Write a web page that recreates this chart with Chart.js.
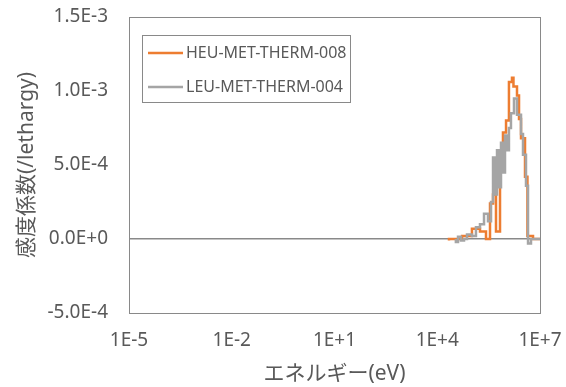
<!DOCTYPE html>
<html>
<head>
<meta charset="utf-8">
<script src="https://cdn.jsdelivr.net/npm/chart.js@4/dist/chart.umd.min.js"></script>
<style>
  html, body { margin: 0; padding: 0; background: #fff; }
  #wrap { width: 566px; height: 387px; }
</style>
</head>
<body>
<div id="wrap"><canvas id="sens" width="566" height="387"></canvas></div>
<script>
// Sensitivity profiles (per lethargy), group lower edges in eV
const seriesLabels = ['HEU-MET-THERM-008', 'LEU-MET-THERM-004'];
const seriesColors = ['#ED7D31', '#A5A5A5'];

const heuEnergy = [2.2e4, 5.3e4, 1.03e5, 1.77e5, 2.65e5, 3.47e5, 4.25e5, 5.19e5, 6.8e5,
  8.3e5, 1.02e6, 1.24e6, 1.52e6, 1.68e6, 2.13e6, 2.44e6, 2.79e6, 3.65e6, 4.3e6, 6.25e6, 8.2e6, 1e7];
const heuValue = [-0.01e-3, 0, 0.02e-3, 0.07e-3, 0.05e-3, 0, 0.24e-3, 0.30e-3, 0.05e-3,
  0.50e-3, 0.72e-3, 0.80e-3, 1.06e-3, 1.09e-3, 1.03e-3, 0.97e-3, 0.81e-3, 0.68e-3, 0.42e-3, 0.02e-3, 0, 0];

const leuEnergy = [3.5e4, 4.04e4, 4.93e4, 6.04e4, 7.39e4, 1.03e5, 1.35e5, 1.77e5, 2.32e5, 3.03e5,
  3.71e5, 4.25e5, 4.86e5, 5.56e5, 6.36e5, 7.27e5, 8.31e5, 9.51e5, 1.09e6, 1.24e6,
  1.42e6, 1.74e6, 2.13e6, 2.79e6, 3.19e6, 3.90e6, 4.47e6, 5.46e6, 8.75e6, 1e7];
const leuValue = [0, -0.02e-3, 0.015e-3, -0.01e-3, 0, 0.03e-3, 0.02e-3, 0.08e-3, 0.10e-3, 0.17e-3,
  0.12e-3, 0.25e-3, 0.55e-3, 0.30e-3, 0.60e-3, 0.35e-3, 0.65e-3, 0.45e-3, 0.70e-3, 0.60e-3,
  0.75e-3, 0.85e-3, 0.95e-3, 0.84e-3, 0.71e-3, 0.57e-3, 0.36e-3, -0.03e-3, 0, 0];

const xTicks = [1e-5, 1e-2, 1e1, 1e4, 1e7];
const yMin = -5e-4, yMax = 1.5e-3, yStep = 5e-4;

const TEXT = '#595959';
const FRAME = '#898989';
Chart.defaults.font.family = "'Noto Sans', 'Noto Sans CJK JP', sans-serif";
Chart.defaults.color = TEXT;

const toPoints = (xs, ys) => xs.map((x, i) => ({ x: x, y: ys[i] }));

// box around the plot area
const plotFrame = {
  id: 'plotFrame',
  beforeDatasetsDraw(chart) {
    const { ctx, chartArea: a } = chart;
    ctx.save();
    ctx.strokeStyle = FRAME;
    ctx.lineWidth = 1;
    ctx.strokeRect(Math.round(a.left) + 0.5, Math.round(a.top) + 0.5,
      Math.round(a.right - a.left), Math.round(a.bottom - a.top));
    ctx.restore();
  }
};

// legend drawn inside the plot, upper left, with a border
const boxedLegend = {
  id: 'boxedLegend',
  afterDatasetsDraw(chart) {
    const ctx = chart.ctx;
    const bx = 142, by = 35, bw = 208, bh = 67;
    ctx.save();
    ctx.fillStyle = '#fff';
    ctx.fillRect(bx, by, bw, bh);
    ctx.strokeStyle = FRAME;
    ctx.lineWidth = 1;
    ctx.strokeRect(bx + 0.5, by + 0.5, bw, bh);
    ctx.font = "16px 'Noto Sans', sans-serif";
    ctx.textBaseline = 'middle';
    seriesLabels.forEach((lbl, i) => {
      const y = by + 18 + i * 34;
      ctx.strokeStyle = seriesColors[i];
      ctx.lineWidth = 2.5;
      ctx.beginPath();
      ctx.moveTo(bx + 6, y);
      ctx.lineTo(bx + 41, y);
      ctx.stroke();
      ctx.fillStyle = TEXT;
      ctx.fillText(lbl, bx + 44, y);
    });
    ctx.restore();
  }
};

new Chart(document.getElementById('sens'), {
  type: 'line',
  data: {
    datasets: [
      {
        label: seriesLabels[0],
        data: toPoints(heuEnergy, heuValue),
        borderColor: seriesColors[0],
        borderWidth: 2.5,
        stepped: 'after',
        pointRadius: 0,
        fill: false,
        order: 1
      },
      {
        label: seriesLabels[1],
        data: toPoints(leuEnergy, leuValue),
        borderColor: seriesColors[1],
        borderWidth: 2.5,
        stepped: 'after',
        pointRadius: 0,
        fill: false,
        order: 0
      }
    ]
  },
  options: {
    responsive: false,
    animation: false,
    devicePixelRatio: 1,
    layout: { padding: { top: 17, right: 26, left: 0, bottom: 0 } },
    plugins: {
      legend: { display: false },
      tooltip: { enabled: false }
    },
    scales: {
      x: {
        type: 'logarithmic',
        min: 1e-5,
        max: 1e7,
        afterBuildTicks: s => { s.ticks = xTicks.map(v => ({ value: v })); },
        afterFit: s => { s.height = 74; s.paddingLeft = 0; s.paddingRight = 0; },
        grid: { display: false, drawTicks: false },
        border: { display: false },
        ticks: {
          padding: 16,
          maxRotation: 0,
          autoSkip: false,
          font: { size: 19 },
          callback: v => v.toExponential(0).toUpperCase()
        },
        title: {
          display: true,
          text: 'エネルギー(eV)',
          font: { size: 21 },
          padding: { top: 1, bottom: 0 }
        }
      },
      y: {
        min: yMin,
        max: yMax,
        afterFit: s => { s.width = 129; s.paddingTop = 0; s.paddingBottom = 0; },
        grid: {
          drawTicks: false,
          lineWidth: 1.5,
          color: c => Math.abs(c.tick.value) < 1e-12 ? '#898989' : 'rgba(0,0,0,0)'
        },
        border: { display: false },
        ticks: {
          stepSize: yStep,
          padding: 21,
          font: { size: 19 },
          callback: v => (Math.abs(v) < 1e-12 ? 0 : v).toExponential(1).toUpperCase()
        },
        title: {
          display: true,
          text: '感度係数(/lethargy)',
          font: { size: 21 },
          padding: { top: 14, bottom: 0 }
        }
      }
    }
  },
  plugins: [plotFrame, boxedLegend]
});
</script>
</body>
</html>
